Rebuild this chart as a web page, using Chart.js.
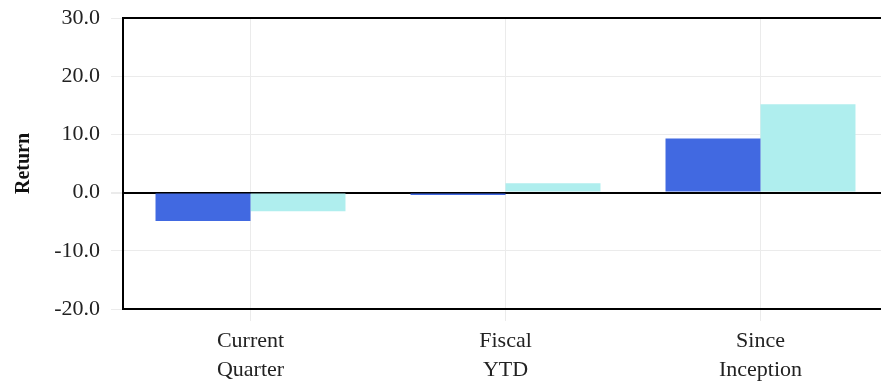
<!DOCTYPE html>
<html>
<head>
<meta charset="utf-8">
<script src="https://cdn.jsdelivr.net/npm/chart.js@4"></script>
<style>
  html, body { margin: 0; padding: 0; overflow: hidden; background: #fff; }
  #wrap { width: 888px; height: 383px; position: relative; }
</style>
</head>
<body>
<div id="wrap"><canvas id="myChart"></canvas></div>
<script>
var categories = [['Current', 'Quarter'], ['Fiscal', 'YTD'], ['Since', 'Inception']];
var portfolioReturns = [-4.9, -0.4, 9.3];
var benchmarkReturns = [-3.2, 1.6, 15.2];
var yTicks = [-20, -10, 0, 10, 20, 30];

const serif = "'Liberation Serif', 'DejaVu Serif', serif";
const gridGrey = '#ebebeb';

const ctx = document.getElementById('myChart');

new Chart(ctx, {
  type: 'bar',
  data: {
    labels: categories,
    datasets: [{
      label: 'Portfolio',
      data: portfolioReturns,
      backgroundColor: '#4169E1',
      borderWidth: 0,
      categoryPercentage: 0.745,
      barPercentage: 1.0
    }, {
      label: 'Benchmark',
      data: benchmarkReturns,
      backgroundColor: '#AFEEEE',
      borderWidth: 0,
      categoryPercentage: 0.745,
      barPercentage: 1.0
    }]
  },
  options: {
    responsive: true,
    maintainAspectRatio: false,
    animation: false,
    layout: { padding: 0 },
    plugins: {
      legend: { display: false },
      tooltip: { enabled: false }
    },
    scales: {
      x: {
        position: 'bottom',
        afterFit: function (scale) {
          scale.height = 74;
          scale.paddingLeft = 0;
          scale.paddingRight = 0;
        },
        grid: {
          offset: false,
          color: gridGrey,
          lineWidth: 1,
          tickLength: 12
        },
        border: { display: true, color: '#000', width: 2 },
        ticks: {
          color: '#222',
          padding: 6,
          maxRotation: 0,
          font: { family: serif, size: 22, lineHeight: 1.32 }
        }
      },
      x2: {
        position: 'top',
        afterFit: function (scale) { scale.height = 18; },
        grid: { display: false, drawTicks: false },
        border: { display: true, color: '#000', width: 2 },
        ticks: { display: false }
      },
      y: {
        min: -20,
        max: 30,
        afterFit: function (scale) {
          scale.width = 123;
          scale.paddingTop = 0;
          scale.paddingBottom = 0;
        },
        afterBuildTicks: function (scale) {
          scale.ticks = yTicks.map(function (v) { return { value: v }; });
        },
        grid: {
          color: function (c) { return c.tick && c.tick.value === 0 ? '#000' : gridGrey; },
          lineWidth: function (c) { return c.tick && c.tick.value === 0 ? 2 : 1; },
          tickColor: gridGrey,
          tickLength: 12
        },
        border: { display: true, color: '#000', width: 2 },
        ticks: {
          color: '#222',
          padding: 11,
          font: { family: serif, size: 22 },
          callback: function (v) { return Number(v).toFixed(1); }
        },
        title: {
          display: true,
          text: 'Return',
          color: '#111',
          padding: { top: 12, bottom: 0 },
          font: { family: serif, size: 20, weight: 'bold' }
        }
      }
    }
  }
});
</script>
</body>
</html>
